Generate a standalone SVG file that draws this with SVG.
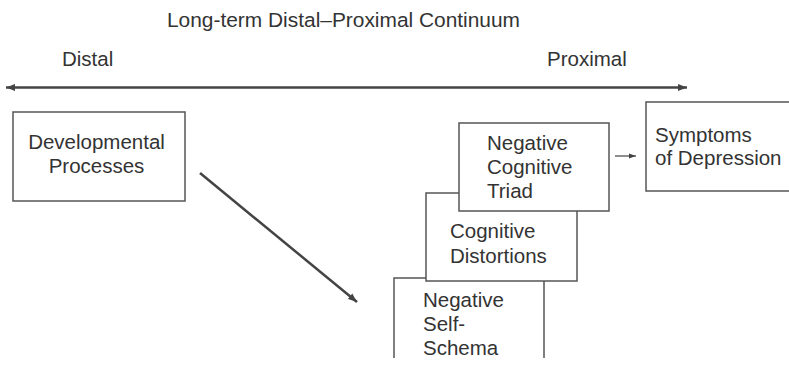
<svg xmlns="http://www.w3.org/2000/svg" width="789" height="365" viewBox="0 0 789 365">
<defs>
<style>
text{font-family:"Liberation Sans",Arial,sans-serif;fill:#333;font-size:20.5px}
.box{fill:#fff;stroke:#555;stroke-width:1.5}
.conn{stroke:#444;fill:none}
</style>
<marker id="ah" markerUnits="userSpaceOnUse" markerWidth="10" markerHeight="8" refX="9" refY="4" orient="auto-start-reverse">
<path d="M0,0.5 L9,4 L0,7.5 Z" fill="#444"/>
</marker>
<marker id="ahs" markerUnits="userSpaceOnUse" markerWidth="8" markerHeight="6" refX="7" refY="3" orient="auto">
<path d="M0,0.5 L7,3 L0,5.5 Z" fill="#444"/>
</marker>
</defs>
<rect width="789" height="365" fill="#fff"/>
<g id="title">
<text x="167" y="27" font-size="21" textLength="353" lengthAdjust="spacingAndGlyphs">Long-term Distal–Proximal Continuum</text>
</g>
<g id="labels">
<text x="62" y="66">Distal</text>
<text x="547" y="66">Proximal</text>
</g>
<g id="connectors">
<line class="conn" x1="6" y1="87.5" x2="687" y2="87.5" stroke-width="2.5" marker-start="url(#ah)" marker-end="url(#ah)"/>
<line class="conn" x1="200" y1="173" x2="357" y2="302" stroke-width="2.5" marker-end="url(#ah)"/>
<line class="conn" x1="615" y1="156" x2="636" y2="156" stroke-width="1.2" marker-end="url(#ahs)"/>
</g>
<g id="developmental">
<rect class="box" x="13" y="112" width="172" height="89"/>
<text x="96.5" y="149" text-anchor="middle">Developmental</text>
<text x="96.5" y="173" text-anchor="middle">Processes</text>
</g>
<g id="self-schema">
<path class="box" d="M394,358 L394,278 L544,278 L544,358"/>
<text x="423" y="307">Negative</text>
<text x="423" y="331">Self-</text>
<text x="423" y="355">Schema</text>
</g>
<g id="distortions">
<rect class="box" x="426" y="193" width="151" height="88"/>
<text x="450" y="238">Cognitive</text>
<text x="450" y="263">Distortions</text>
</g>
<g id="triad">
<rect class="box" x="459" y="123" width="150" height="88"/>
<text x="487" y="150">Negative</text>
<text x="487" y="174">Cognitive</text>
<text x="487" y="198">Triad</text>
</g>
<g id="symptoms">
<rect class="box" x="646" y="102" width="160" height="89"/>
<text x="655" y="142">Symptoms</text>
<text x="655" y="165">of Depression</text>
</g>
</svg>
